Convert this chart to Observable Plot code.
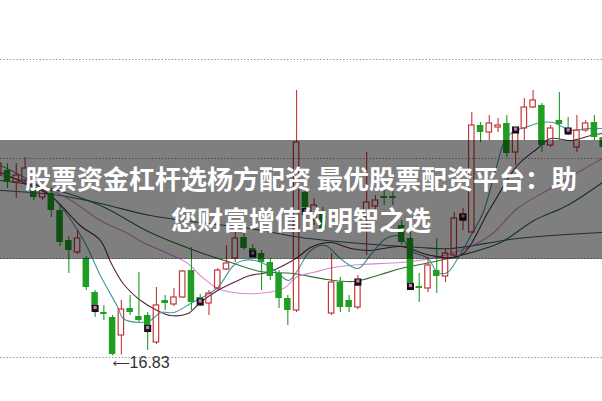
<!DOCTYPE html>
<html><head><meta charset="utf-8">
<script src="https://cdn.jsdelivr.net/npm/d3@7"></script>
<script src="https://cdn.jsdelivr.net/npm/@observablehq/plot@0.6"></script>
<style>
html,body{margin:0;padding:0;background:#fff;}
#wrap{position:relative;width:602px;height:401px;overflow:hidden;}
#wrap svg{display:block;}
#band{position:absolute;left:0;top:140px;width:602px;height:119px;background:rgba(0,0,0,0.5);}
.l{position:absolute;left:0;width:602px;text-align:center;color:#fff;font-family:"Noto Sans CJK SC";font-weight:700;font-size:26px;line-height:30px;white-space:nowrap;}
</style></head><body>
<div id="wrap"><div id="chart"></div><div id="band"><div class="l" id="t1"></div><div class="l" id="t2"></div></div></div>
<script>
// ---- data ----
const opens  = [20.44,20.54,20.30,20.34,20.14,20.00,20.08,19.74,19.14,18.90,18.78,18.10,17.70,17.60,17.24,17.78,17.62,17.64,17.10,17.94,17.86,18.00,18.54,18.00,17.88,18.18,18.56,18.78,19.20,18.98,18.88,18.70,18.48,17.98,17.74,20.10,19.54,19.70,17.68,18.30,17.94,17.80,19.60,19.82,20.02,20.02,19.44,19.18,18.22,18.18,18.54,18.42,18.84,19.54,19.30,21.44,21.30,21.40,21.48,20.90,21.38,21.80,21.84,21.04,21.54,21.38,21.00,21.34,21.50,21.20];
const highs  = [20.78,20.68,20.68,20.80,20.28,20.24,20.18,19.84,19.22,19.34,18.82,18.14,17.84,17.64,17.94,18.04,18.50,17.70,18.20,18.04,18.18,18.54,19.00,18.06,18.14,18.58,19.04,19.34,19.34,19.06,18.94,18.78,18.54,18.04,22.14,20.24,19.98,19.80,18.88,18.40,18.04,18.44,20.90,20.04,20.14,20.18,19.54,19.30,18.48,18.80,19.18,18.98,19.70,19.78,21.70,21.50,21.64,21.58,21.64,21.40,21.98,22.14,21.88,21.44,22.10,21.60,21.64,21.54,21.64,21.34];
const lows   = [20.34,20.18,19.98,20.24,19.94,19.94,19.60,19.02,18.48,18.86,18.14,17.60,17.54,16.83,16.85,17.64,17.50,16.94,17.06,17.74,17.82,17.98,17.74,17.82,17.64,18.14,18.54,18.70,18.94,18.82,18.14,18.34,17.78,17.44,17.70,19.74,19.44,19.30,17.64,17.70,17.70,17.76,18.84,19.74,19.84,19.84,19.04,18.14,17.90,18.10,18.08,18.30,18.78,19.34,19.30,21.10,21.14,21.30,20.80,20.64,21.14,21.78,20.90,21.00,21.14,21.24,20.90,21.30,21.14,20.94];
const closes = [20.68,20.30,20.44,20.58,20.00,20.14,19.74,19.10,18.94,19.18,18.20,17.80,17.66,16.86,17.76,17.70,17.54,17.44,17.84,17.88,18.00,18.52,17.90,17.92,18.08,18.54,18.68,19.18,18.98,18.88,18.70,18.42,17.98,17.74,21.10,19.80,19.84,19.38,18.30,17.80,17.80,18.24,19.90,19.94,19.98,19.98,19.10,18.28,18.18,18.64,18.42,18.88,19.58,19.66,21.44,21.30,21.48,21.44,20.88,21.30,21.80,21.94,21.04,21.38,21.46,21.30,21.34,21.48,21.20,21.00];

const markIdx = [11,17,23,29,35,41,47,53,59,65];
const markVal = [17.78,17.38,17.91,18.87,19.72,18.31,18.22,19.61,21.35,21.33];

const ma5I = [0.2,2.5,5.3,7.0,9.7,11.6,13.6,14.2,16.2,17.3,18.5,20.0,21.9,23.0,25.0,26.8,27.9,29.3,30.7,31.9,33.1,34.1,35.6,37.3,39.0,41.0,42.4,44.2,45.9,47.0,49.0,50.1,51.2,52.4,53.9,55.3,56.7,57.9,59.0,60.1,61.9,63.3,64.5,65.6,67.2,68.9];
const ma5V = [20.64,20.44,20.14,19.84,19.14,18.44,17.80,17.58,17.50,17.54,17.70,17.70,17.88,17.98,18.20,18.64,18.74,18.74,18.64,18.48,18.34,18.54,18.94,19.04,18.78,18.58,18.84,19.18,19.22,18.94,18.78,18.50,18.50,18.78,19.24,19.70,20.54,21.18,21.34,21.40,21.50,21.50,21.40,21.34,21.38,21.38];
const ma10I = [0.2,3.6,5.9,9.3,11.6,12.8,14.2,16.2,18.1,19.6,21.6,23.0,25.0,26.8,28.7,30.7,32.5,34.1,35.6,37.9,40.2,42.4,45.9,49.3,52.7,56.1,59.2,61.5,63.0,65.3,67.6,68.9];
const ma10V = [20.50,20.24,20.04,19.44,19.14,18.70,18.28,17.94,17.74,17.64,17.68,17.90,18.14,18.30,18.44,18.50,18.64,18.80,19.00,19.10,18.98,18.94,19.02,18.84,18.84,19.78,20.64,20.98,21.18,21.14,21.24,21.28];
const ma20I = [0.2,3.6,7.9,11.6,14.5,16.5,19.3,21.6,23.0,25.0,26.8,29.5,32.5,34.1,35.9,38.2,41.3,45.9,49.3,52.7,56.1,59.2,63.0,66.1,68.9];
const ma20V = [20.44,20.30,19.98,19.54,19.30,19.10,18.88,18.68,18.44,18.18,18.10,18.08,18.18,18.42,18.50,18.60,18.66,18.70,18.78,18.94,19.24,19.78,20.18,20.50,20.78];
const ma30I = [0.2,5.9,11.6,17.3,23.0,26.5,29.9,33.6,37.5,40.5,43.6,45.9,49.3,52.7,57.3,61.1,64.9,68.9];
const ma30V = [20.34,20.18,19.84,19.30,18.90,18.70,18.52,18.48,18.36,18.32,18.46,18.58,18.70,18.84,19.10,19.54,19.84,20.30];
const ma60I = [0.2,7.0,11.6,17.3,23.0,28.7,34.5,41.3,48.1,51.6,59.2,68.9];
const ma60V = [20.14,20.04,19.88,19.64,19.50,19.38,19.20,19.08,19.00,18.98,19.18,19.30];

const gridPrices = [16.8, 18.78, 20.78, 22.76];
const lowLabel = "16.83";
const line1 = "股票资金杠杆选杨方配资 最优股票配资平台：助";
const line2 = "您财富增值的明智之选";

// ---- build ----
const candles = opens.map((o, k) => ({i: k, open: o, high: highs[k], low: lows[k], close: closes[k]}));
const up = candles.filter(d => d.close >= d.open);
const down = candles.filter(d => d.close < d.open);
const marks = markIdx.map((i, k) => ({i, v: markVal[k]}));
const series = (I, V) => I.map((i, k) => ({i, v: V[k]}));
const lowest = candles.reduce((a, b) => (b.low < a.low ? b : a));

const RED = "#c8363a", GREEN = "#1f9e24";
const lineOpts = (color) => ({x: "i", y: "v", stroke: color, strokeWidth: 1.1, curve: "catmull-rom", clip: true});

const chart = Plot.plot({
  width: 602, height: 401,
  margin: 0,
  style: {background: "#fff"},
  x: {domain: [0.2009, 68.922], axis: null},
  y: {domain: [15.92, 23.94], axis: null},
  marks: [
    Plot.ruleY(gridPrices, {stroke: "#8c8c8c", strokeDasharray: "1.3,2", strokeWidth: 1}),
    Plot.line(series(ma60I, ma60V), lineOpts("#35606a")),
    Plot.line(series(ma30I, ma30V), lineOpts("#2b6e37")),
    Plot.line(series(ma20I, ma20V), lineOpts("#d88ad6")),
    Plot.line(series(ma10I, ma10V), lineOpts("#5c2142")),
    Plot.line(series(ma5I, ma5V), lineOpts("#3f9a9c")),
    // wicks
    Plot.ruleX(up, {x: "i", y1: "close", y2: "high", stroke: RED, strokeWidth: 1.1, clip: true}),
    Plot.ruleX(up, {x: "i", y1: "low", y2: "open", stroke: RED, strokeWidth: 1.1, clip: true}),
    Plot.ruleX(down, {x: "i", y1: "low", y2: "high", stroke: GREEN, strokeWidth: 1.1, clip: true}),
    // bodies
    Plot.rect(down, {x1: d => d.i - 0.37, x2: d => d.i + 0.37, y1: "open", y2: "close", fill: GREEN, clip: true}),
    Plot.rect(up, {x1: d => d.i - 0.31, x2: d => d.i + 0.31, y1: "open", y2: "close", fill: "none", stroke: RED, strokeWidth: 1.2, clip: true}),
    // markers
    Plot.dot(marks, {x: "i", y: "v", symbol: "square", r: 4, fill: "#111"}),
    Plot.dot(marks, {x: "i", y: "v", symbol: "square", r: 1.8, fill: "#e070d0", dy: -1}),
    // low label: arrow + value
    Plot.text([lowest], {x: "i", y: "low", text: () => "\u27F5", textAnchor: "start", lineAnchor: "middle", dx: 0, dy: 7, fontSize: 12, fill: "#333", fontFamily: "DejaVu Sans, sans-serif"}),
    Plot.text([lowest], {x: "i", y: "low", text: () => lowLabel, textAnchor: "start", lineAnchor: "middle", dx: 17, dy: 7, fontSize: 16, fill: "#333", fontFamily: "Liberation Sans, Arial, sans-serif"})
  ]
});
document.getElementById("chart").appendChild(chart);
const t1 = document.getElementById("t1"), t2 = document.getElementById("t2");
t1.textContent = line1; t1.style.top = "23px";
t2.textContent = line2; t2.style.top = "64px";
</script>
</body></html>
